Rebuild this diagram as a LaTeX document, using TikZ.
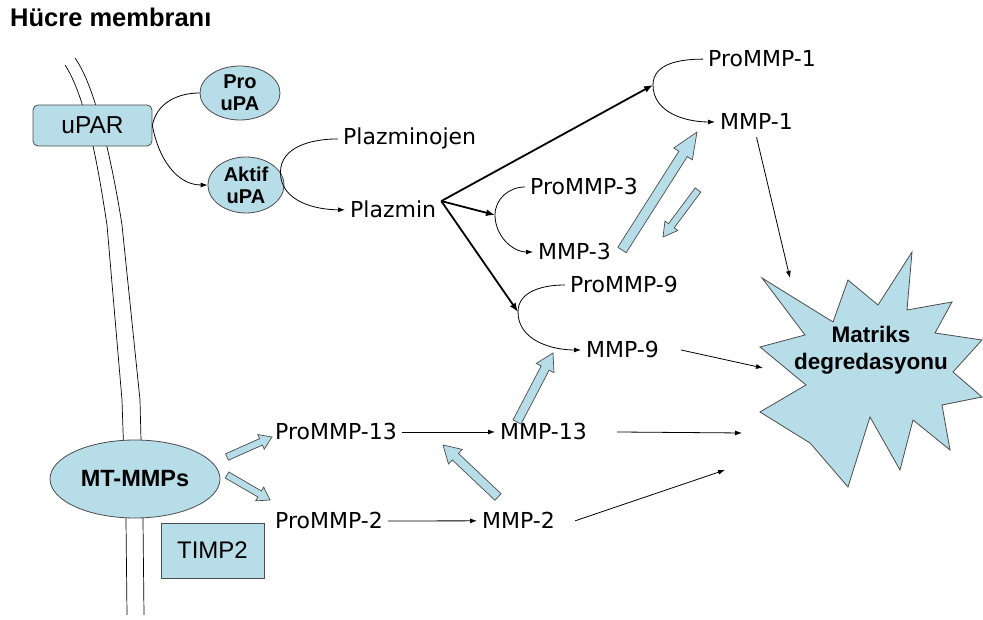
\documentclass[tikz,border=0pt]{standalone}
\usepackage{fontspec}
\setmainfont{DejaVu Sans}
\newfontfamily\arialf{Liberation Sans}
\usepackage{tikz}
\usetikzlibrary{calc,arrows.meta,shapes.geometric}

\definecolor{cellblue}{RGB}{183,221,232}

\newcommand{\blockarr}[5]{%
  \coordinate (ba-n) at ($(#2)!#5!(#1)$);
  \filldraw[blockarrow] ($(#1)!#3!90:(#2)$) -- ($(ba-n)!#3!90:(#2)$) -- ($(ba-n)!#4!90:(#2)$)
    -- (#2) -- ($(ba-n)!#4!-90:(#2)$) -- ($(ba-n)!#3!-90:(#2)$) -- ($(#1)!#3!-90:(#2)$) -- cycle;
}

\begin{document}
\begin{tikzpicture}[x=1pt,y=1pt,
    bluebox/.style={draw=black!70,fill=cellblue,line width=0.8pt},
    blueoval/.style={ellipse,draw=black!70,fill=cellblue,line width=0.8pt,inner sep=0pt,align=center,
      font=\arialf\bfseries\fontsize{20}{22}\selectfont},
    lbl/.style={anchor=base west,inner xsep=5pt,inner ysep=0pt,font=\fontsize{22}{26}\selectfont},
    thinarr/.style={line width=0.8pt,-{Latex[length=7pt,width=5pt]}},
    thickarr/.style={line width=1.8pt,-{Latex[length=9pt,width=7pt]}},
    blockarrow/.style={draw=black!70,fill=cellblue,line width=0.7pt,line join=miter}]
    \useasboundingbox (0,0) rectangle (983,620);

    \node[anchor=base west,inner sep=0pt,font=\arialf\bfseries\fontsize{25.5}{30}\selectfont] (title) at (10,593) {Hücre membranı};

    \draw[line width=0.7pt] (65,555) .. controls (88,520) and (100,440) .. (107,395) -- (122,220) -- (126,100) -- (127,5);
    \draw[line width=0.7pt] (75,562) .. controls (98,530) and (115,440) .. (122,395) -- (140,220) -- (143,100) -- (144,5);

    \node[bluebox,rounded corners=5pt,minimum width=119pt,minimum height=41pt,
      font=\arialf\fontsize{24.5}{28}\selectfont] (upar) at (92.5,494.5) {uPAR};
    \node[blueoval,minimum width=80pt,minimum height=54pt] (proupa) at (240,527) {Pro\\uPA};
    \node[blueoval,minimum width=76pt,minimum height=56pt] (aktif) at (246,435) {Aktif\\uPA};
    \node[blueoval,minimum width=170pt,minimum height=78pt,
      font=\arialf\bfseries\fontsize{23.5}{27}\selectfont] (mtmmp) at (135,141) {MT-MMPs};
    \node[bluebox,minimum width=103pt,minimum height=55pt,
      font=\arialf\fontsize{24}{28}\selectfont] (timp) at (212.5,69.5) {TIMP2};

    \node[lbl] (plazminojen) at (338,475) {Plazminojen};
    \node[lbl] (plazmin) at (345,402) {Plazmin};
    \node[lbl] (pro1) at (703,553) {ProMMP-1};
    \node[lbl] (mmp1) at (715,490) {MMP-1};
    \node[lbl] (pro3) at (525,425) {ProMMP-3};
    \node[lbl] (mmp3) at (533,360) {MMP-3};
    \node[lbl] (pro9) at (565,327) {ProMMP-9};
    \node[lbl] (mmp9) at (581,262) {MMP-9};
    \node[lbl] (pro13) at (270,180) {ProMMP-13};
    \node[lbl] (mmp13) at (495,180) {MMP-13};
    \node[lbl] (pro2) at (270,91) {ProMMP-2};
    \node[lbl] (mmp2) at (477,91) {MMP-2};

    \filldraw[draw=black!70,fill=cellblue,line width=0.8pt,line join=miter]
      (762,342) -- (833,298) -- (848,340) -- (878,315) -- (912,368) -- (907,310) -- (952,318)
      -- (935,287) -- (982,280) -- (953,248) -- (982,223) -- (942,215) -- (950,170) -- (913,200)
      -- (900,150) -- (870,203) -- (848,133) -- (810,177) -- (760,208) -- (806,235) -- (760,273)
      -- (805,285) -- cycle;
    \node[align=center,font=\arialf\bfseries\fontsize{22.5}{27}\selectfont] (matriks) at (871,270) {Matriks\\degredasyonu};

    \draw[thinarr] (proupa.west) to[out=180,in=80] (upar.east) to[out=-80,in=180] (aktif.west);
    \draw[thinarr] (plazminojen.west) to[out=180,in=90] (aktif.20) to[out=-90,in=180] (plazmin.west);

    \coordinate (k1) at (653,535);
    \coordinate (k3) at (495,405);
    \coordinate (k9) at (518,308);
    \draw[thinarr] (pro1.west) to[out=180,in=90] (k1) to[out=-90,in=180] (mmp1.west);
    \draw[thinarr] (pro3.west) to[out=180,in=90] (k3) to[out=-90,in=180] (mmp3.west);
    \draw[thinarr] (pro9.west) to[out=180,in=90] (k9) to[out=-90,in=180] (mmp9.west);

    \draw[thickarr] (plazmin.north east) -- (k1);
    \draw[thickarr] (plazmin.north east) -- (k3);
    \draw[thickarr] (plazmin.north east) -- (k9);

    \coordinate (e1) at (790,342);
    \coordinate (e9) at (763,252);
    \coordinate (e13) at (742,187);
    \coordinate (e2) at (725,150);
    \draw[thinarr] (pro13.east) -- (mmp13.west);
    \draw[thinarr] (pro2.east) -- (mmp2.west);
    \draw[thinarr] ([yshift=-7pt]mmp1.south) -- (e1);
    \draw[thinarr] ([xshift=17pt]mmp9.east) -- (e9);
    \draw[thinarr] ([xshift=25pt]mmp13.east) -- (e13);
    \draw[thinarr] ([xshift=15pt]mmp2.east) -- (e2);

    \coordinate (b1t) at (622,370);
    \coordinate (b1h) at (697,488);
    \coordinate (b2t) at (698,430);
    \coordinate (b2h) at (663,383);
    \coordinate (b3t) at (227,163);
    \coordinate (b3h) at (272,183);
    \coordinate (b4t) at (227,145);
    \coordinate (b4h) at (270,120);
    \coordinate (b5t) at (498,123);
    \coordinate (b5h) at (443,175);
    \coordinate (b6t) at (517,198);
    \coordinate (b6h) at (553,267);
    \blockarr{b1t}{b1h}{5pt}{11pt}{26pt}
    \blockarr{b2t}{b2h}{3.5pt}{8pt}{14pt}
    \blockarr{b3t}{b3h}{3.5pt}{8pt}{12pt}
    \blockarr{b4t}{b4h}{3.5pt}{8pt}{12pt}
    \blockarr{b5t}{b5h}{4.5pt}{10pt}{17pt}
    \blockarr{b6t}{b6h}{4.5pt}{10pt}{17pt}
\end{tikzpicture}
\end{document}
